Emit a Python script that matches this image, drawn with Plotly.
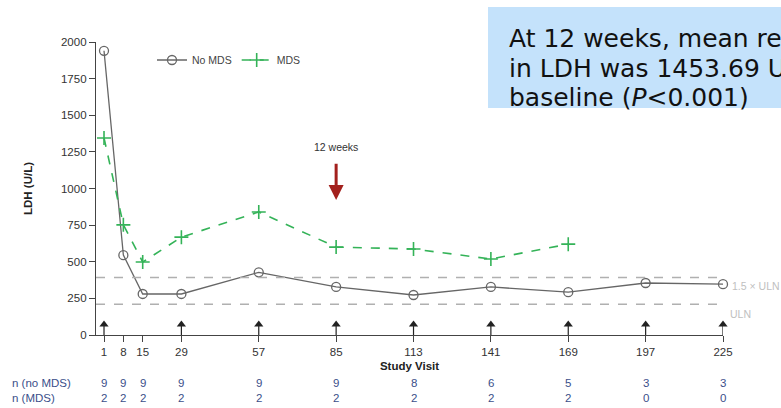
import plotly.graph_objects as go

# ---- data ----
visits = [1, 8, 15, 29, 57, 85, 113, 141, 169, 197, 225]
ldh_no_mds = [1940, 545, 280, 280, 428, 328, 273, 328, 292, 355, 347]
visits_mds = [1, 8, 15, 29, 57, 85, 113, 141, 169]
ldh_mds = [1345, 752, 498, 668, 840, 600, 587, 519, 620]
n_no_mds = [9, 9, 9, 9, 9, 9, 8, 6, 5, 3, 3]
n_mds = [2, 2, 2, 2, 2, 2, 2, 2, 2, 0, 0]
dosing_visits = [1, 29, 57, 85, 113, 141, 169, 197, 225]
uln = 210
uln_15 = 392
y_ticks = [0, 250, 500, 750, 1000, 1250, 1500, 1750, 2000]

GRAY = "#666666"
GREEN = "#34b358"
BLUE = "#3b4f8a"
TXT = "#333333"
FONT = "Liberation Sans, Arial, sans-serif"

fig = go.Figure()

# dosing arrows (black up-arrows on the baseline)
arrow_level = 72
fig.add_trace(go.Scatter(
    x=dosing_visits, y=[arrow_level] * len(dosing_visits), mode="markers",
    marker=dict(symbol="triangle-up", size=8, color="#222222"),
    error_y=dict(type="data", symmetric=False, array=[0] * len(dosing_visits),
                 arrayminus=[arrow_level] * len(dosing_visits),
                 width=0, thickness=1.2, color="#222222"),
    showlegend=False, hoverinfo="skip", cliponaxis=False))

fig.add_trace(go.Scatter(
    x=visits, y=ldh_no_mds, mode="lines+markers", name="No MDS",
    line=dict(color=GRAY, width=1.3),
    marker=dict(symbol="circle-open", size=9, color=GRAY, line=dict(width=1.3)),
    cliponaxis=False))

fig.add_trace(go.Scatter(
    x=visits_mds, y=ldh_mds, mode="lines+markers", name="MDS",
    line=dict(color=GREEN, width=1.6, dash="dash"),
    marker=dict(symbol="cross-thin-open", size=10, color=GREEN, line=dict(width=1.6)),
    cliponaxis=False))

# ULN reference lines
for val in (uln_15, uln):
    fig.add_shape(type="line", xref="paper", yref="y", x0=0, x1=0.992,
                  y0=val, y1=val, line=dict(color="#b0b0b0", width=1.5, dash="dash"))

annotations = [
    dict(x=1.011, y=uln_15, xref="paper", yref="y", text="1.5 × ULN", showarrow=False,
         xanchor="left", yanchor="top", font=dict(size=10.5, color="#c0c0c0", family=FONT)),
    dict(x=1.008, y=uln, xref="paper", yref="y", text="ULN", showarrow=False,
         xanchor="left", yanchor="top", yshift=-2, font=dict(size=10.5, color="#c0c0c0", family=FONT)),
    # 12 weeks marker
    dict(x=85, y=921, ax=85, ay=1180, xref="x", yref="y", axref="x", ayref="y",
         showarrow=True, arrowhead=2, arrowsize=1, arrowwidth=3, arrowcolor="#a3201d", text=""),
    dict(x=85, y=1283, xref="x", yref="y", text="12 weeks", showarrow=False,
         font=dict(size=10.5, color=TXT, family=FONT)),
    # row labels
    dict(x=10, y=383, xref="paper", yref="paper", text="n (no MDS)", showarrow=False),
    dict(x=10, y=398, xref="paper", yref="paper", text="n (MDS)", showarrow=False),
]

# convert pixel positions for row labels to paper coordinates
L, R, T, B, W, H = 96, 58, 42, 73, 781, 408
pw, ph = W - L - R, H - T - B
def px_x(px):
    return (px - L) / pw
def px_y(py):
    return (H - B - py) / ph

for a in annotations[-2:]:
    a["x"] = px_x(a["x"])
    a["y"] = px_y(a["y"])
    a["xanchor"] = "left"
    a["yanchor"] = "middle"
    a["font"] = dict(size=11.5, color=BLUE, family=FONT)

for v, n1, n2 in zip(visits, n_no_mds, n_mds):
    annotations.append(dict(x=v, y=px_y(383), xref="x", yref="paper", text=str(n1),
                            showarrow=False, yanchor="middle",
                            font=dict(size=11.5, color=BLUE, family=FONT)))
    annotations.append(dict(x=v, y=px_y(398), xref="x", yref="paper", text=str(n2),
                            showarrow=False, yanchor="middle",
                            font=dict(size=11.5, color=BLUE, family=FONT)))

# callout box
fig.add_shape(type="rect", xref="paper", yref="paper",
              x0=px_x(488), x1=px_x(800), y0=px_y(108), y1=px_y(7),
              fillcolor="#c4e2fb", line=dict(width=0), layer="below")
box_lines = ["At 12 weeks, mean reduction",
             "in LDH was 1453.69 U/L from",
             "baseline (<i>P</i>&lt;0.001)"]
for i, line in enumerate(box_lines):
    annotations.append(dict(x=px_x(507), y=px_y(38 + 30 * i), xref="paper", yref="paper",
                            text=line, showarrow=False, xanchor="left", yanchor="middle",
                            font=dict(size=25, color="#111111", family="DejaVu Sans, Verdana, sans-serif")))

fig.update_layout(
    width=W, height=H,
    margin=dict(l=L, r=R, t=T, b=B),
    paper_bgcolor="white", plot_bgcolor="white",
    font=dict(family=FONT, color=TXT, size=11.5),
    annotations=annotations,
    legend=dict(orientation="h", x=px_x(152), y=px_y(60), xanchor="left", yanchor="middle",
                font=dict(size=10.5, color="#444444", family=FONT),
                bgcolor="rgba(0,0,0,0)", itemwidth=30, tracegroupgap=0),
    xaxis=dict(range=[-1.9, 225], tickvals=visits, ticktext=[str(v) for v in visits],
               showgrid=False, zeroline=False, showline=True, linecolor="#444444", linewidth=1.3,
               ticks="outside", ticklen=6, tickcolor="#444444", tickwidth=1.2,
               tickfont=dict(size=11.5, color=TXT, family=FONT),
               title=dict(text="<b>Study Visit</b>", font=dict(size=11.5, color="#222222", family=FONT),
                          standoff=4)),
    yaxis=dict(range=[0, 2000], tickvals=y_ticks, showgrid=False, zeroline=False,
               showline=True, linecolor="#444444", linewidth=1.3,
               ticks="outside", ticklen=6, tickcolor="#444444", tickwidth=1.2,
               tickfont=dict(size=11.5, color=TXT, family=FONT),
               title=dict(text="<b>LDH (U/L)</b>", font=dict(size=11.5, color="#222222", family=FONT),
                          standoff=25)),
)

fig.write_html("out.html", config={"displayModeBar": False},
               post_script="document.body.style.margin='0';document.body.style.overflow='hidden';")
